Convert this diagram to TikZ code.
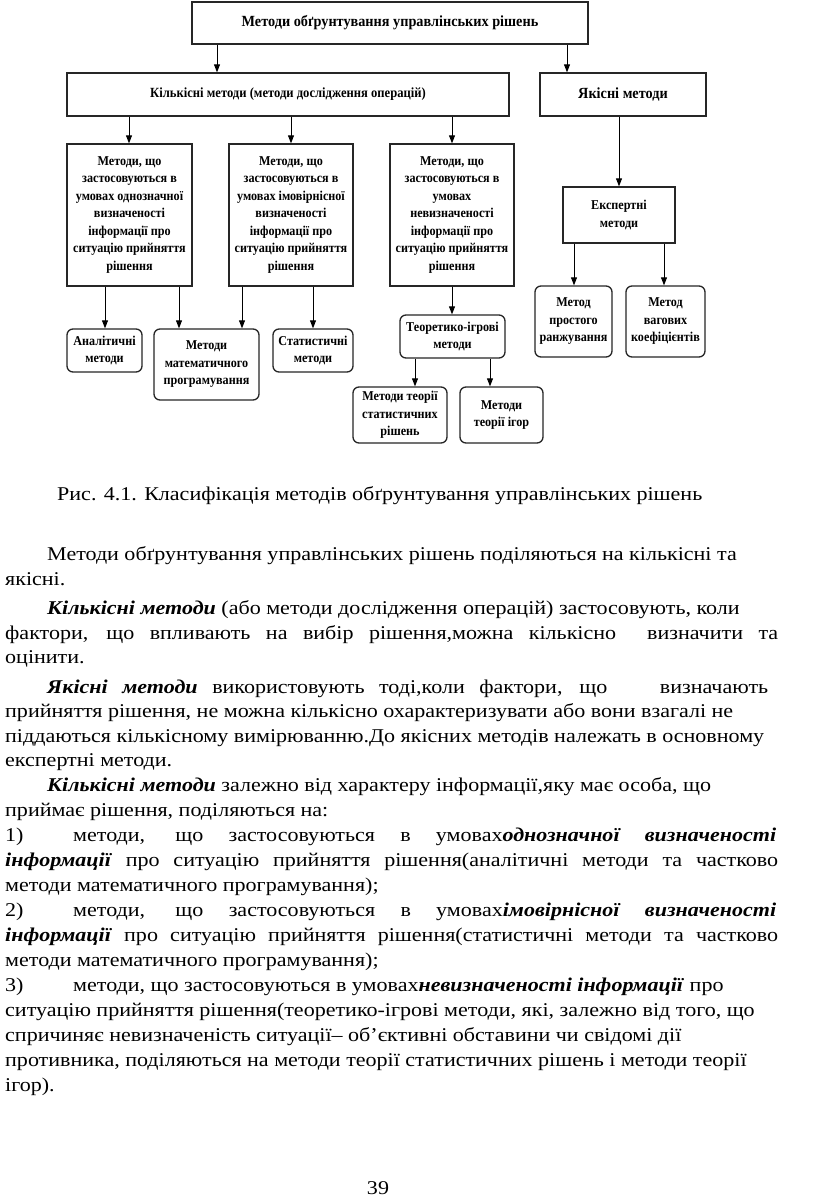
\documentclass[tikz,border=0pt]{standalone}
\usepackage{fontspec}
\setmainfont{Liberation Serif}[FakeStretch=1.13]
\newfontfamily\dfont[FakeStretch=0.9]{Liberation Serif}
\newfontfamily\tfont[FakeStretch=0.92]{Liberation Serif}
\usetikzlibrary{arrows.meta}
\tikzset{
  box/.style={draw=black!85, line width=1.3pt, inner sep=0pt, align=center,
    font=\dfont\bfseries\fontsize{13.5}{17.5}\selectfont},
  rbox/.style={box, rounded corners=6pt},
  arr/.style={-{Triangle[length=8pt,width=6pt]}, line width=1pt},
  body/.style={anchor=base west, inner sep=0pt, font=\fontsize{19.5}{25}\selectfont},
}
\newcommand{\bx}[7][box]{%
  \node[#1, minimum width={(#5-#3)*1pt}, minimum height={(#6-#4)*1pt}]
    (#2) at ({(#3+#5)/2},{(#4+#6)/2}) {#7};}
\newcommand{\bi}[1]{\textbf{\textit{#1}}}
\begin{document}
\begin{tikzpicture}[x=1pt,y=-1pt]
\useasboundingbox (0,0) rectangle (816,1202);
\fill[white] (0,0) rectangle (816,1202);
% ---- diagram boxes
\bx{top}{192}{2}{588}{44}{\tfont\bfseries\fontsize{15.5}{18}\selectfont Методи обґрунтування управлінських рішень}
\bx{kil}{67}{73}{509}{116}{\fontsize{14}{18}\selectfont Кількісні методи (методи дослідження операцій)}
\bx{yak}{540}{73}{706}{116}{\tfont\bfseries\fontsize{15.5}{18}\selectfont Якісні методи}
\bx{b1}{67}{144}{192}{286}{Методи, що\\застосовуються в\\умовах однозначної\\визначеності\\інформації про\\ситуацію прийняття\\рішення}
\bx{b2}{229}{144}{353}{286}{Методи, що\\застосовуються в\\умовах імовірнісної\\визначеності\\інформації про\\ситуацію прийняття\\рішення}
\bx{b3}{390}{144}{514}{286}{Методи, що\\застосовуються в\\умовах\\невизначеності\\інформації про\\ситуацію прийняття\\рішення}
\bx{eks}{563}{187}{675}{243}{Експертні\\методи}
\bx[rbox]{anal}{67}{329}{142}{372}{Аналітичні\\методи}
\bx[rbox]{math}{154}{329}{259}{400}{Методи\\математичного\\програмування}
\bx[rbox]{stat}{273}{329}{353}{372}{Статистичні\\методи}
\bx[rbox]{teor}{400}{315}{505}{358}{Теоретико-ігрові\\методи}
\bx[rbox]{tsr}{353}{387}{447}{443}{Методи теорії\\статистичних\\рішень}
\bx[rbox]{tig}{460}{387}{543}{443}{Методи\\теорії ігор}
\bx[rbox]{rank}{535}{286}{612}{357}{Метод\\простого\\ранжування}
\bx[rbox]{vag}{626}{286}{705}{357}{Метод\\вагових\\коефіцієнтів}
% ---- x positions of connectors
\coordinate (xa) at (217,0);
\coordinate (xb) at (567,0);
\coordinate (xc) at (129,0);
\coordinate (xd) at (291,0);
\coordinate (xe) at (452,0);
\coordinate (xf) at (105,0);
\coordinate (xg) at (179,0);
\coordinate (xh) at (242,0);
\coordinate (xi) at (313,0);
\coordinate (xj) at (415,0);
\coordinate (xk) at (490,0);
\coordinate (xl) at (619,0);
\coordinate (xm) at (574,0);
\coordinate (xn) at (664,0);
% ---- connectors
\draw[arr] (top.south -| xa) -- (kil.north -| xa);
\draw[arr] (top.south -| xb) -- (yak.north -| xb);
\draw[arr] (kil.south -| xc) -- (b1.north -| xc);
\draw[arr] (kil.south -| xd) -- (b2.north -| xd);
\draw[arr] (kil.south -| xe) -- (b3.north -| xe);
\draw[arr] (b1.south -| xf) -- (anal.north -| xf);
\draw[arr] (b1.south -| xg) -- (math.north -| xg);
\draw[arr] (b2.south -| xh) -- (math.north -| xh);
\draw[arr] (b2.south -| xi) -- (stat.north -| xi);
\draw[arr] (b3.south -| xe) -- (teor.north -| xe);
\draw[arr] (teor.south -| xj) -- (tsr.north -| xj);
\draw[arr] (teor.south -| xk) -- (tig.north -| xk);
\draw[arr] (yak.south -| xl) -- (eks.north -| xl);
\draw[arr] (eks.south -| xm) -- (rank.north -| xm);
\draw[arr] (eks.south -| xn) -- (vag.north -| xn);
% ---- caption and text
\node[body] (cap) at (57,500) {Рис. 4.1. Класифікація методів обґрунтування управлінських рішень};
\node[body] (l1) at (47,560) {Методи обґрунтування управлінських рішень поділяються на кількісні та};
\node[body] (l2) at (5,585) {якісні.};
\node[body] (l3) at (47,614) {\bi{Кількісні методи} (або методи дослідження операцій) застосовують, коли};
\node[body] (l4) at (5,639) {\makebox[773pt][s]{фактори, що впливають на вибір рішення,можна кількісно \ визначити та}};
\node[body] (l5) at (5,663) {оцінити.};
\node[body] (l6) at (47,693) {\makebox[721pt][s]{\bi{Якісні методи} використовують тоді,коли фактори, що \hspace{1.2em} визначають}};
\node[body] (l7) at (5,717) {прийняття рішення, не можна кількісно охарактеризувати або вони взагалі не};
\node[body] (l8) at (5,742) {піддаються кількісному вимірюванню.До якісних методів належать в основному};
\node[body] (l9) at (5,766) {експертні методи.};
\node[body] (l10) at (47,791) {\bi{Кількісні методи} залежно від характеру інформації,яку має особа, що};
\node[body] (l11) at (5,816) {приймає рішення, поділяються на:};
\node[body] (n1) at (5,841) {1)};
\node[body] (l12) at (73,841) {\makebox[703pt][s]{методи, що застосовуються в умовах\bi{однозначної визначеності}}};
\node[body] (l13) at (5,866) {\makebox[773pt][s]{\bi{інформації} про ситуацію прийняття рішення(аналітичні методи та частково}};
\node[body] (l14) at (5,891) {методи математичного програмування);};
\node[body] (n2) at (5,916) {2)};
\node[body] (l15) at (73,916) {\makebox[703pt][s]{методи, що застосовуються в умовах\bi{імовірнісної визначеності}}};
\node[body] (l16) at (5,941) {\makebox[773pt][s]{\bi{інформації} про ситуацію прийняття рішення(статистичні методи та частково}};
\node[body] (l17) at (5,966) {методи математичного програмування);};
\node[body] (n3) at (5,991) {3)};
\node[body] (l18) at (73,991) {методи, що застосовуються в умовах\bi{невизначеності інформації} про};
\node[body] (l19) at (5,1016) {ситуацію прийняття рішення(теоретико-ігрові методи, які, залежно від того, що};
\node[body] (l20) at (5,1041) {спричиняє невизначеність ситуації– об’єктивні обставини чи свідомі дії};
\node[body] (l21) at (5,1066) {противника, поділяються на методи теорії статистичних рішень і методи теорії};
\node[body] (l22) at (5,1091) {ігор).};
\node[body, anchor=base] (pg) at (378,1194) {39};
\end{tikzpicture}
\end{document}
